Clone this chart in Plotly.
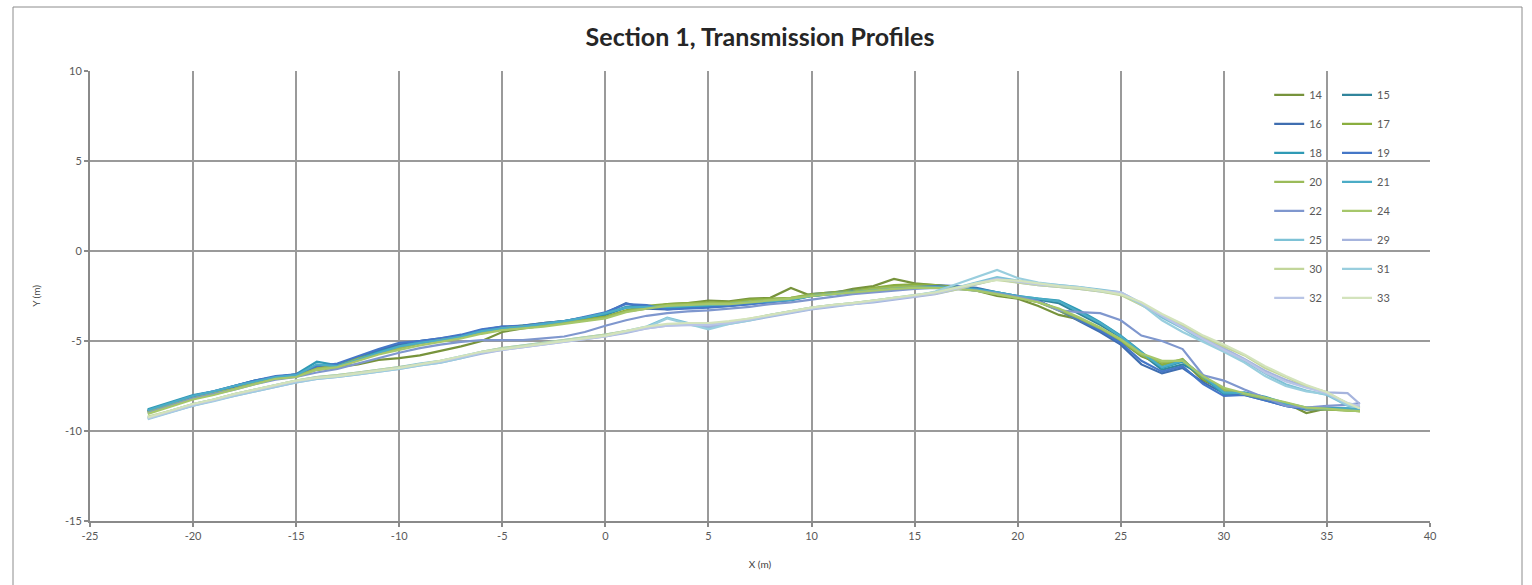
import plotly.graph_objects as go

# ---------------- data ----------------
X = [-22.2, -21, -20, -19, -18, -17, -16, -15, -14, -13,
     -12, -11, -10, -9, -8, -7, -6, -5, -4, -3,
     -2, -1, 0, 1, 2, 3, 4, 5, 6, 7,
     8, 9, 10, 11, 12, 13, 14, 15, 16, 17,
     18, 19, 20, 21, 22, 23, 24, 25, 26, 27,
     28, 29, 30, 31, 32, 33, 34, 35, 36, 36.6]

s14 = [-8.9, -8.45, -8.1, -7.85, -7.55, -7.25, -7.0, -6.95, -6.6, -6.45,
       -6.3, -6.05, -5.95, -5.8, -5.55, -5.3, -5.0, -4.5, -4.3, -4.15,
       -4.0, -3.85, -3.7, -3.35, -3.2, -2.95, -2.9, -2.75, -2.8, -2.65,
       -2.6, -2.05, -2.5, -2.35, -2.1, -1.95, -1.55, -1.8, -1.9, -2.05,
       -2.2, -2.5, -2.65, -3.05, -3.55, -3.8, -4.3, -5.0, -5.85, -6.3,
       -6.1, -7.2, -7.7, -7.95, -8.2, -8.45, -9.0, -8.75, -8.8, -8.9]
s15 = [-8.85, -8.4, -8.05, -7.85, -7.5, -7.2, -7.0, -6.85, -6.45, -6.3,
       -5.9, -5.55, -5.25, -5.0, -4.9, -4.7, -4.4, -4.3, -4.2, -4.1,
       -3.95, -3.75, -3.55, -3.15, -3.05, -3.2, -3.1, -3.05, -3.0, -2.9,
       -2.8, -2.7, -2.5, -2.35, -2.3, -2.2, -2.1, -2.0, -1.95, -2.0,
       -2.1, -2.35, -2.55, -2.7, -2.9, -3.5, -4.1, -4.8, -5.7, -6.6,
       -6.3, -6.9, -7.9, -7.9, -8.25, -8.55, -8.75, -8.75, -8.75, -8.8]
s16 = [-8.9, -8.45, -8.1, -7.85, -7.55, -7.25, -7.0, -6.9, -6.35, -6.35,
       -5.9, -5.5, -5.2, -5.0, -4.85, -4.7, -4.4, -4.2, -4.2, -4.0,
       -3.9, -3.7, -3.45, -2.9, -3.2, -3.25, -3.15, -3.1, -3.05, -2.95,
       -2.8, -2.7, -2.4, -2.3, -2.2, -2.1, -2.0, -1.95, -1.9, -1.95,
       -2.05, -2.3, -2.5, -2.75, -3.3, -3.9, -4.5, -5.2, -6.3, -6.8,
       -6.5, -7.3, -7.9, -8.0, -8.3, -8.6, -8.8, -8.8, -8.8, -8.85]
s17 = [-8.95, -8.5, -8.15, -7.9, -7.65, -7.3, -7.05, -6.95, -6.5, -6.3,
       -5.95, -5.65, -5.4, -5.1, -4.9, -4.8, -4.5, -4.25, -4.15, -4.0,
       -3.9, -3.8, -3.65, -3.3, -3.05, -2.95, -2.9, -2.85, -2.85, -2.7,
       -2.65, -2.6, -2.4, -2.3, -2.2, -2.05, -1.9, -1.85, -1.9, -2.0,
       -2.15, -2.4, -2.6, -2.85, -3.3, -3.85, -4.35, -5.0, -5.8, -6.35,
       -6.0, -7.1, -7.75, -7.95, -8.25, -8.5, -8.8, -8.8, -8.85, -8.9]
s18 = [-8.8, -8.35, -8.0, -7.8, -7.5, -7.2, -7.0, -6.85, -6.15, -6.35,
       -6.0, -5.6, -5.3, -5.05, -4.9, -4.75, -4.4, -4.25, -4.15, -4.05,
       -3.9, -3.7, -3.5, -3.1, -3.05, -3.2, -3.1, -3.1, -3.05, -2.9,
       -2.8, -2.75, -2.5, -2.4, -2.25, -2.2, -2.05, -2.0, -2.0, -2.05,
       -2.1, -2.3, -2.5, -2.65, -2.75, -3.3, -3.95, -4.7, -5.6, -6.5,
       -6.15, -7.0, -7.95, -7.85, -8.1, -8.45, -8.7, -8.7, -8.75, -8.8]
s19 = [-8.9, -8.45, -8.05, -7.8, -7.5, -7.2, -6.95, -6.85, -6.4, -6.25,
       -5.85, -5.45, -5.1, -5.0, -4.85, -4.65, -4.35, -4.2, -4.15, -4.0,
       -3.9, -3.65, -3.4, -2.95, -3.0, -3.25, -3.2, -3.15, -3.05, -2.95,
       -2.85, -2.7, -2.45, -2.35, -2.25, -2.15, -2.05, -1.95, -1.95, -2.05,
       -2.15, -2.35, -2.55, -2.8, -3.25, -3.85, -4.4, -5.1, -6.1, -6.7,
       -6.4, -7.4, -8.05, -8.0, -8.3, -8.6, -8.8, -8.75, -8.8, -8.85]
s20 = [-8.95, -8.5, -8.2, -7.9, -7.65, -7.35, -7.1, -6.95, -6.55, -6.4,
       -6.0, -5.7, -5.4, -5.15, -4.95, -4.8, -4.55, -4.3, -4.2, -4.1,
       -3.95, -3.85, -3.7, -3.35, -3.15, -3.0, -2.95, -2.9, -2.9, -2.8,
       -2.7, -2.6, -2.45, -2.35, -2.25, -2.1, -2.0, -1.95, -2.0, -2.05,
       -2.2, -2.4, -2.6, -2.85, -3.25, -3.75, -4.3, -4.95, -5.75, -6.2,
       -6.05, -7.0, -7.7, -7.95, -8.2, -8.45, -8.75, -8.8, -8.85, -8.9]
s21 = [-8.85, -8.4, -8.05, -7.8, -7.5, -7.25, -7.0, -6.9, -6.3, -6.4,
       -6.05, -5.65, -5.3, -5.1, -4.95, -4.75, -4.45, -4.3, -4.2, -4.05,
       -3.9, -3.7, -3.45, -3.15, -3.1, -3.1, -3.05, -3.0, -2.95, -2.85,
       -2.8, -2.7, -2.5, -2.4, -2.3, -2.2, -2.1, -2.05, -2.0, -2.05,
       -2.15, -2.3, -2.5, -2.65, -2.8, -3.4, -4.0, -4.75, -5.65, -6.45,
       -6.1, -6.95, -7.85, -7.9, -8.15, -8.5, -8.75, -8.75, -8.75, -8.8]
s22 = [-9.0, -8.55, -8.2, -7.95, -7.7, -7.4, -7.15, -7.0, -6.75, -6.55,
       -6.25, -5.95, -5.65, -5.4, -5.2, -5.05, -4.95, -4.95, -4.95, -4.85,
       -4.75, -4.5, -4.15, -3.85, -3.6, -3.45, -3.35, -3.3, -3.2, -3.1,
       -2.95, -2.85, -2.7, -2.55, -2.4, -2.3, -2.2, -2.1, -2.05, -2.1,
       -2.2, -2.35, -2.55, -2.8, -3.3, -3.4, -3.45, -3.85, -4.7, -5.0,
       -5.45, -6.9, -7.2, -7.7, -8.15, -8.6, -8.7, -8.6, -8.55, -8.45]
s24 = [-9.05, -8.6, -8.25, -8.0, -7.7, -7.4, -7.1, -7.0, -6.6, -6.45,
       -6.1, -5.75, -5.5, -5.25, -5.05, -4.85, -4.6, -4.4, -4.3, -4.2,
       -4.05, -3.9, -3.75, -3.4, -3.2, -3.05, -3.0, -2.95, -2.95, -2.85,
       -2.75, -2.65, -2.5, -2.4, -2.3, -2.2, -2.1, -2.05, -2.05, -2.1,
       -2.2, -2.4, -2.6, -2.85, -3.2, -3.7, -4.25, -4.9, -5.7, -6.1,
       -6.1, -6.95, -7.6, -7.9, -8.15, -8.4, -8.7, -8.75, -8.85, -8.9]
s25 = [-9.25, -8.85, -8.5, -8.25, -7.95, -7.7, -7.45, -7.2, -7.0, -6.9,
       -6.75, -6.6, -6.45, -6.25, -6.1, -5.85, -5.6, -5.4, -5.25, -5.1,
       -4.95, -4.8, -4.65, -4.45, -4.2, -3.7, -4.0, -4.3, -4.0, -3.8,
       -3.55, -3.35, -3.15, -3.0, -2.9, -2.75, -2.6, -2.45, -2.3, -2.05,
       -1.75, -1.45, -1.65, -1.8, -1.9, -2.0, -2.15, -2.3, -2.9, -3.7,
       -4.3, -5.0, -5.5, -6.1, -6.8, -7.4, -7.75, -8.0, -8.6, -8.7]
s29 = [-9.3, -8.9, -8.6, -8.3, -8.05, -7.8, -7.55, -7.3, -7.1, -7.0,
       -6.85, -6.7, -6.55, -6.35, -6.2, -5.95, -5.7, -5.5, -5.35, -5.2,
       -5.05, -4.9, -4.75, -4.55, -4.3, -4.15, -4.1, -4.2, -4.05, -3.85,
       -3.65, -3.45, -3.25, -3.1, -2.95, -2.85, -2.7, -2.55, -2.4, -2.15,
       -1.85, -1.55, -1.75, -1.9, -2.0, -2.1, -2.25, -2.4, -3.0, -3.6,
       -4.2, -4.85, -5.4, -6.0, -6.65, -7.15, -7.55, -7.85, -7.9, -8.5]
s30 = [-9.2, -8.85, -8.5, -8.25, -7.95, -7.7, -7.45, -7.2, -7.0, -6.9,
       -6.75, -6.6, -6.45, -6.3, -6.1, -5.9, -5.6, -5.4, -5.25, -5.1,
       -4.95, -4.8, -4.65, -4.45, -4.25, -4.1, -4.0, -4.05, -3.95, -3.75,
       -3.55, -3.35, -3.15, -3.0, -2.9, -2.75, -2.6, -2.5, -2.35, -2.15,
       -1.85, -1.6, -1.75, -1.9, -2.0, -2.1, -2.25, -2.45, -3.0, -3.55,
       -4.1, -4.75, -5.3, -5.8, -6.5, -7.0, -7.5, -7.85, -8.5, -8.7]
s31 = [-9.35, -8.95, -8.6, -8.35, -8.05, -7.8, -7.55, -7.3, -7.1, -7.0,
       -6.85, -6.7, -6.55, -6.35, -6.2, -5.95, -5.65, -5.45, -5.3, -5.15,
       -5.0, -4.85, -4.7, -4.5, -4.25, -3.75, -4.05, -4.35, -4.05, -3.85,
       -3.6, -3.4, -3.2, -3.05, -2.95, -2.8, -2.65, -2.5, -2.25, -1.85,
       -1.45, -1.05, -1.5, -1.75, -1.9, -2.0, -2.2, -2.35, -2.95, -3.85,
       -4.5, -5.05, -5.6, -6.2, -6.95, -7.5, -7.8, -7.95, -8.55, -8.65]
s32 = [-9.3, -8.9, -8.55, -8.3, -8.0, -7.75, -7.5, -7.25, -7.05, -6.95,
       -6.8, -6.65, -6.5, -6.3, -6.15, -5.9, -5.65, -5.5, -5.35, -5.2,
       -5.05, -4.9, -4.75, -4.5, -4.3, -4.15, -4.1, -4.1, -4.0, -3.8,
       -3.6, -3.4, -3.2, -3.05, -2.95, -2.8, -2.65, -2.5, -2.35, -2.1,
       -1.8, -1.55, -1.7, -1.85, -1.95, -2.05, -2.2, -2.3, -2.9, -3.6,
       -4.25, -4.9, -5.5, -6.05, -6.75, -7.25, -7.6, -7.9, -8.45, -8.6]
s33 = [-9.25, -8.85, -8.5, -8.25, -7.95, -7.7, -7.45, -7.2, -7.05, -6.95,
       -6.8, -6.65, -6.5, -6.3, -6.1, -5.85, -5.6, -5.45, -5.3, -5.15,
       -5.0, -4.85, -4.7, -4.45, -4.2, -4.05, -4.0, -4.0, -3.9, -3.75,
       -3.55, -3.35, -3.15, -3.0, -2.9, -2.75, -2.6, -2.45, -2.3, -2.05,
       -1.8, -1.6, -1.65, -1.8, -1.95, -2.05, -2.2, -2.4, -2.85, -3.5,
       -4.05, -4.7, -5.2, -5.75, -6.4, -6.95, -7.45, -7.85, -8.45, -8.75]

names = ["14", "15", "16", "17", "18", "19", "20", "21",
         "22", "24", "25", "29", "30", "31", "32", "33"]
series = [s14, s15, s16, s17, s18, s19, s20, s21,
          s22, s24, s25, s29, s30, s31, s32, s33]
colors = ["#77933C", "#31859C", "#3F6EB0", "#8AAE3F", "#2F9AB5", "#4577C7",
          "#9BBB59", "#4BACC6", "#7F97CE", "#A6C76B", "#7EC2D6", "#A6B4DD",
          "#C2D69A", "#99CEDE", "#B9C5E6", "#D3E3BC"]

x_ticks = [-25, -20, -15, -10, -5, 0, 5, 10, 15, 20, 25, 30, 35, 40]
x_tick_labels = ["-25", "-20", "-15", "-10", "-5", "0", "5", "10", "15",
                 "20", "25", "30", "35", "40"]
y_ticks = [-15, -10, -5, 0, 5, 10]
y_tick_labels = ["-15", "-10", "-5", "0", "5", "10"]

FONT = "Lato, 'Open Sans', sans-serif"
GREY_TXT = "#595959"
GRID = "#9a9a9a"

fig = go.Figure()
for i, (nm, ys, col) in enumerate(zip(names, series, colors)):
    fig.add_trace(go.Scatter(
        x=X, y=ys, mode="lines", name=nm,
        line=dict(color=col, width=2.2),
        legendgroup=nm,
        legend="legend" if i % 2 == 0 else "legend2",
    ))

legend_common = dict(
    orientation="v", xanchor="left", yanchor="top", y=0.979,
    bgcolor="rgba(0,0,0,0)", borderwidth=0,
    font=dict(family=FONT, size=11, color=GREY_TXT),
    tracegroupgap=10, itemclick=False, itemdoubleclick=False,
)

fig.update_layout(
    width=1532, height=585,
    margin=dict(l=90, r=102, t=71, b=64),
    paper_bgcolor="white", plot_bgcolor="white",
    title=dict(text="<b>Section 1, Transmission Profiles</b>",
               x=0.5, xref="paper", xanchor="center",
               y=1 - 37 / 585, yref="container", yanchor="middle",
               font=dict(family=FONT, size=25, color="#262626")),
    font=dict(family=FONT, size=10, color=GREY_TXT),
    legend=dict(x=0.880, **legend_common),
    legend2=dict(x=0.9306, **legend_common),
    xaxis=dict(range=[-25, 40], tickvals=x_ticks, ticktext=x_tick_labels,
               showgrid=True, gridcolor=GRID, gridwidth=1.5, zeroline=False,
               showline=True, linecolor="#8a8a8a", linewidth=2,
               ticks="outside", ticklen=4, tickcolor="#8a8a8a", tickwidth=1.5,
               tickfont=dict(family=FONT, size=11, color=GREY_TXT),
               title=dict(text="X (m)", standoff=20,
                          font=dict(family=FONT, size=10, color="#404040"))),
    yaxis=dict(range=[-15, 10], tickvals=y_ticks, ticktext=y_tick_labels,
               showgrid=True, gridcolor=GRID, gridwidth=1.5, zeroline=False,
               showline=True, linecolor="#8a8a8a", linewidth=2,
               ticks="outside", ticklen=4, tickcolor="#8a8a8a", tickwidth=1.5,
               tickfont=dict(family=FONT, size=11, color=GREY_TXT),
               title=dict(text="Y (m)", standoff=22,
                          font=dict(family=FONT, size=10, color="#404040"))),
    shapes=[dict(type="rect", xref="paper", yref="paper",
                 x0=(13 - 90) / 1340, x1=(1522 - 90) / 1340,
                 y0=(521 - 600) / 450, y1=(521 - 7) / 450,
                 line=dict(color="#8c8c8c", width=1), fillcolor="rgba(0,0,0,0)",
                 layer="below")],
)

fig.write_html("out.html")
